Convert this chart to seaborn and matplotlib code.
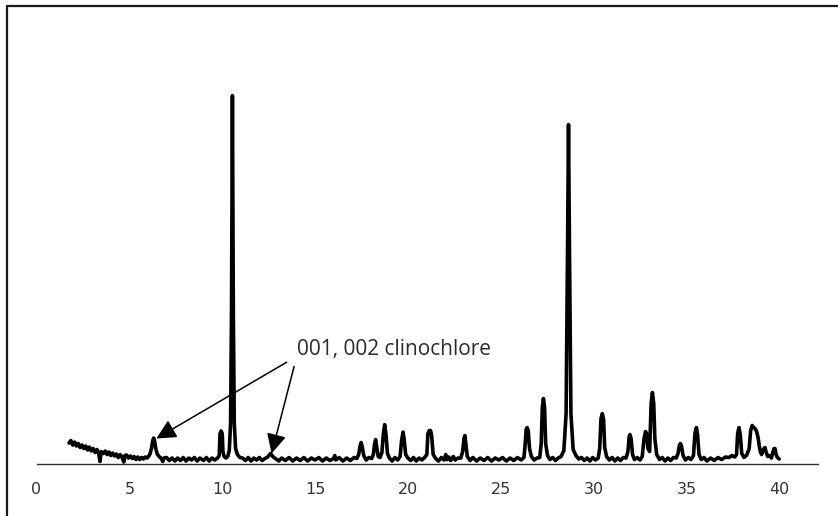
# XRD pattern with the clinochlore 001/002 reflections pointed out

import matplotlib
matplotlib.use("Agg")
import matplotlib.pyplot as plt
from matplotlib.lines import Line2D
import pandas as pd
import seaborn as sns

# trace (2-theta in degrees, intensity in counts), row by row
two_theta = [
    1.75, 1.85, 1.95, 2.05, 2.15, 2.25, 2.35, 2.45, 2.55, 2.65, 2.75, 2.85,
    2.95, 3.05, 3.15, 3.25, 3.35, 3.42, 3.48, 3.6, 3.7, 3.8, 3.9, 4.0,
    4.1, 4.2, 4.3, 4.4, 4.5, 4.6, 4.7, 4.76, 4.85, 4.95, 5.05, 5.15,
    5.25, 5.35, 5.45, 5.55, 5.65, 5.75, 5.85, 5.95, 6.05, 6.12, 6.2, 6.26,
    6.31, 6.36, 6.42, 6.5, 6.6, 6.7, 6.8, 6.86, 7.0, 7.15, 7.3, 7.45,
    7.6, 7.75, 7.9, 8.05, 8.2, 8.35, 8.5, 8.65, 8.8, 9.0, 9.15, 9.3,
    9.45, 9.6, 9.75, 9.84, 9.88, 9.94, 10.0, 10.04, 10.1, 10.2, 10.3, 10.38,
    10.45, 10.5, 10.55, 10.6, 10.65, 10.72, 10.82, 10.95, 11.1, 11.25, 11.4, 11.55,
    11.7, 11.85, 12.0, 12.15, 12.3, 12.45, 12.6, 12.75, 12.9, 13.05, 13.2, 13.4,
    13.6, 13.8, 14.0, 14.2, 14.4, 14.6, 14.8, 15.0, 15.2, 15.4, 15.6, 15.8,
    16.0, 16.06, 16.12, 16.3, 16.5, 16.7, 16.9, 17.1, 17.25, 17.35, 17.42, 17.48,
    17.54, 17.62, 17.75, 17.9, 18.05, 18.14, 18.2, 18.26, 18.32, 18.4, 18.5, 18.6,
    18.68, 18.75, 18.82, 18.9, 19.0, 19.15, 19.3, 19.45, 19.58, 19.66, 19.74, 19.8,
    19.88, 20.0, 20.15, 20.3, 20.45, 20.6, 20.75, 20.9, 21.02, 21.08, 21.15, 21.22,
    21.28, 21.36, 21.5, 21.65, 21.8, 21.95, 22.04, 22.1, 22.2, 22.3, 22.45, 22.55,
    22.7, 22.85, 22.95, 23.02, 23.07, 23.12, 23.2, 23.35, 23.5, 23.7, 23.9, 24.1,
    24.3, 24.5, 24.7, 24.9, 25.1, 25.3, 25.5, 25.7, 25.9, 26.1, 26.25, 26.32,
    26.37, 26.42, 26.48, 26.55, 26.65, 26.8, 26.95, 27.1, 27.18, 27.24, 27.3, 27.36,
    27.42, 27.52, 27.65, 27.8, 27.95, 28.1, 28.25, 28.4, 28.52, 28.6, 28.65, 28.7,
    28.78, 28.9, 29.05, 29.2, 29.35, 29.5, 29.65, 29.8, 29.95, 30.1, 30.25, 30.33,
    30.4, 30.47, 30.54, 30.6, 30.7, 30.85, 31.0, 31.15, 31.3, 31.45, 31.6, 31.75,
    31.85, 31.92, 31.96, 32.02, 32.1, 32.2, 32.35, 32.5, 32.62, 32.72, 32.8, 32.86,
    32.93, 33.02, 33.1, 33.17, 33.24, 33.3, 33.4, 33.55, 33.7, 33.85, 34.0, 34.15,
    34.3, 34.45, 34.55, 34.62, 34.68, 34.74, 34.82, 34.95, 35.1, 35.25, 35.38, 35.46,
    35.54, 35.6, 35.68, 35.8, 35.95, 36.1, 36.3, 36.5, 36.7, 36.9, 37.1, 37.3,
    37.45, 37.6, 37.7, 37.76, 37.83, 37.9, 37.98, 38.1, 38.25, 38.38, 38.46, 38.54,
    38.62, 38.7, 38.78, 38.86, 38.92, 38.98, 39.05, 39.12, 39.18, 39.23, 39.3, 39.38,
    39.48, 39.58, 39.65, 39.72, 39.77, 39.83, 39.9, 40.0,
]
counts = [
    205, 230, 185, 215, 175, 200, 160, 185, 150, 175, 135, 165,
    125, 150, 110, 140, 100, 20, 120, 100, 125, 90, 115, 80,
    105, 75, 95, 60, 90, 65, 15, 80, 85, 55, 75, 50,
    70, 40, 65, 40, 60, 45, 65, 55, 75, 100, 160, 230,
    255, 225, 150, 95, 70, 55, 20, 55, 60, 30, 55, 25,
    55, 30, 60, 25, 55, 35, 60, 25, 55, 30, 60, 25,
    55, 35, 55, 80, 300, 325, 300, 120, 70, 55, 70, 130,
    400, 1500, 3680, 1500, 400, 150, 90, 60, 55, 30, 60, 25,
    55, 35, 60, 30, 50, 65, 100, 65, 45, 25, 55, 30,
    60, 25, 55, 30, 60, 25, 55, 35, 60, 25, 55, 30,
    50, 80, 35, 60, 25, 55, 30, 60, 50, 90, 170, 210,
    170, 80, 35, 60, 50, 90, 190, 240, 170, 70, 60, 110,
    300, 390, 290, 100, 55, 25, 60, 35, 70, 230, 315, 240,
    90, 55, 30, 60, 25, 55, 35, 60, 90, 300, 330, 330,
    280, 90, 50, 25, 60, 35, 90, 40, 65, 30, 70, 35,
    55, 55, 120, 250, 280, 200, 70, 30, 60, 25, 55, 30,
    60, 25, 55, 35, 60, 25, 55, 30, 60, 35, 60, 200,
    340, 360, 330, 150, 70, 35, 55, 60, 200, 560, 650, 560,
    200, 80, 40, 60, 30, 55, 70, 130, 500, 2200, 3390, 2200,
    500, 140, 80, 45, 60, 30, 55, 25, 60, 35, 55, 150,
    450, 500, 440, 160, 70, 35, 60, 25, 55, 30, 60, 55,
    120, 270, 290, 250, 90, 40, 60, 35, 70, 250, 320, 300,
    150, 120, 600, 710, 600, 250, 90, 40, 60, 25, 55, 30,
    60, 55, 100, 180, 200, 170, 80, 35, 60, 40, 80, 300,
    360, 290, 90, 40, 60, 25, 55, 30, 60, 40, 65, 60,
    80, 65, 90, 300, 360, 290, 100, 60, 85, 150, 330, 380,
    360, 350, 320, 260, 180, 120, 90, 130, 150, 160, 110, 70,
    80, 55, 110, 150, 150, 90, 60, 45,
]

x_ticks = [0, 5, 10, 15, 20, 25, 30, 35, 40]
label_text = "001, 002 clinochlore"
peak_001 = (6.45, 250)
peak_002 = (12.66, 100)

df = pd.DataFrame({"two_theta": two_theta, "counts": counts})

sns.set_style("white")
plt.rcParams["font.family"] = ["DejaVu Sans"]

fig = plt.figure(figsize=(8.38, 5.16), dpi=100)
ax = fig.add_axes([0.0436, 0.1017, 0.9326, 0.782])

sns.lineplot(data=df, x="two_theta", y="counts", sort=False, estimator=None,
             color="black", lw=2.6, ax=ax)

ax.set_xlim(0, 42.09)
ax.set_ylim(0, 4035)
ax.set_xticks(x_ticks)
ax.set_yticks([])
ax.set_xlabel("")
ax.set_ylabel("")
for side in ["left", "top", "right"]:
    ax.spines[side].set_visible(False)
ax.spines["bottom"].set_color("#333333")
ax.spines["bottom"].set_linewidth(1.0)
ax.tick_params(axis="x", direction="out", length=5, width=1.0, color="#333333",
               labelsize=11.5, labelcolor="#333333", pad=8)

arrow = dict(arrowstyle="-|>,head_length=0.6,head_width=0.3", mutation_scale=20,
             color="black", lw=1.1, shrinkA=0, shrinkB=0)
ax.annotate("", xy=peak_001, xytext=(13.47, 1013), arrowprops=arrow)
ax.annotate("", xy=peak_002, xytext=(13.87, 970), arrowprops=arrow)
ax.text(14.03, 1140, label_text, ha="left", va="center", fontsize=15,
        family=["Open Sans", "DejaVu Sans"], color="#2b2b2b")

# frame edges of the original image (left and top only)
fig.add_artist(Line2D([7 / 838, 7 / 838], [0, 1 - 6 / 516], transform=fig.transFigure,
                      color="#1a1a1a", lw=1.6))
fig.add_artist(Line2D([7 / 838, 1], [1 - 6 / 516, 1 - 6 / 516], transform=fig.transFigure,
                      color="#1a1a1a", lw=1.6))

fig.savefig("out.png", dpi=100)
